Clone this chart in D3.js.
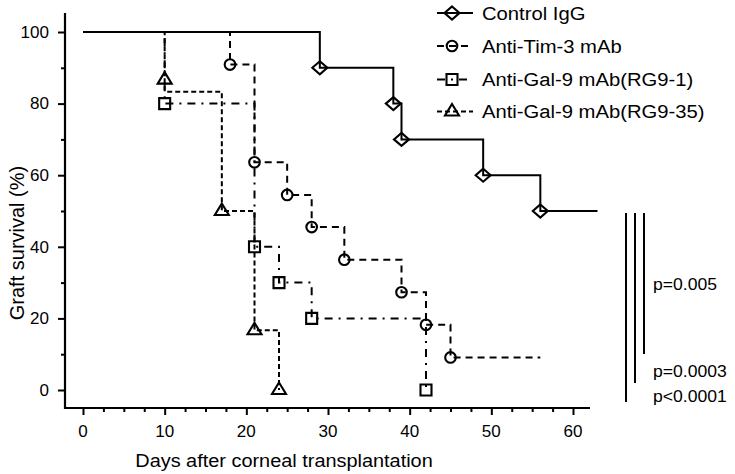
<!DOCTYPE html>
<html><head><meta charset="utf-8">
<script src="https://cdn.jsdelivr.net/npm/d3@7"></script>
<style>html,body{margin:0;padding:0;background:#fff}svg{display:block}</style>
</head><body>
<svg id="c" width="735" height="474"></svg>
<script>
// ---- data ----
const xTicks = [0, 10, 20, 30, 40, 50, 60];
const yTicks = [0, 20, 40, 60, 80, 100];
const seriesNames = ["Control IgG", "Anti-Tim-3 mAb", "Anti-Gal-9 mAb(RG9-1)", "Anti-Gal-9 mAb(RG9-35)"];

const controlDays = [0, 29, 38, 39, 49, 56, 63];
const controlSurv = [100, 90, 80, 70, 60, 50, 50];
const controlMarkDays = [29, 38, 39, 49, 56];
const controlMarkSurv = [90, 80, 70, 60, 50];

const tim3Days = [0, 18, 21, 25, 28, 32, 39, 42, 45, 56];
const tim3Surv = [100, 90.9, 63.6, 54.5, 45.5, 36.4, 27.3, 18.2, 9.1, 9.1];
const tim3MarkDays = [18, 21, 25, 28, 32, 39, 42, 45];
const tim3MarkSurv = [90.9, 63.6, 54.5, 45.5, 36.4, 27.3, 18.2, 9.1];

const rg91Days = [0, 10, 21, 24, 28, 42];
const rg91Surv = [100, 80, 40, 30, 20, 0];
const rg91MarkDays = [10, 21, 24, 28, 42];
const rg91MarkSurv = [80, 40, 30, 20, 0];

const rg935Days = [0, 10, 17, 21, 24];
const rg935Surv = [100, 83.3, 50, 16.7, 0];
const rg935MarkDays = [10, 17, 21, 24];
const rg935MarkSurv = [86.7, 50, 16.7, 0];

const pLabels = ["p=0.005", "p=0.0003", "p<0.0001"];

// ---- drawing ----
const svg = d3.select("#c");
const FONT = "'Liberation Sans', Arial, Helvetica, sans-serif";
const SX = 1.065;
const x = d3.scaleLinear().domain([0, 60]).range([83, 573]);
const y = d3.scaleLinear().domain([0, 100]).range([390, 32]);

function txt(g, px, py, s, size, anchor) {
  return g.append("text")
    .attr("transform", `translate(${px},${py}) scale(${SX},1)`)
    .attr("text-anchor", anchor || "start")
    .attr("font-family", FONT).attr("font-size", size).attr("fill", "#000")
    .text(s);
}

// axes lines
svg.append("line").attr("x1", 65).attr("x2", 65).attr("y1", 13).attr("y2", 409)
  .attr("stroke", "#000").attr("stroke-width", 2.2);
svg.append("line").attr("x1", 64).attr("x2", 590).attr("y1", 408).attr("y2", 408)
  .attr("stroke", "#000").attr("stroke-width", 2.2);

// x ticks
const xMinor = d3.range(0, 62.5, 2.5).filter(v => v % 10 !== 0);
const xAx = svg.append("g").attr("transform", "translate(0,408)");
xAx.call(d3.axisBottom(x).tickValues(xTicks).tickSize(7).tickSizeOuter(0).tickFormat(""));
xAx.append("g").call(d3.axisBottom(x).tickValues(xMinor).tickSize(4).tickSizeOuter(0).tickFormat(""));
xAx.selectAll(".domain").remove();
xAx.selectAll("line").attr("stroke", "#000").attr("stroke-width", 2);
xTicks.forEach(v => txt(svg, x(v), 436.5, String(v), 16, "middle"));

// y ticks
const yMinor = [10, 30, 50, 70, 90];
const yAx = svg.append("g").attr("transform", "translate(65,0)");
yAx.call(d3.axisLeft(y).tickValues(yTicks).tickSize(7).tickSizeOuter(0).tickFormat(""));
yAx.append("g").call(d3.axisLeft(y).tickValues(yMinor).tickSize(4).tickSizeOuter(0).tickFormat(""));
yAx.selectAll(".domain").remove();
yAx.selectAll("line").attr("stroke", "#000").attr("stroke-width", 2);
yTicks.forEach(v => txt(svg, 49, y(v) + 5.7, String(v), 16, "end"));

// axis titles
txt(svg, 284, 467, "Days after corneal transplantation", 18.7, "middle");
svg.append("text").attr("transform", "translate(24,243) rotate(-90)")
  .attr("text-anchor", "middle").attr("font-family", FONT).attr("font-size", 20)
  .text("Graft survival (%)");

// series
const series = [
  {days: controlDays, surv: controlSurv, md: controlMarkDays, ms: controlMarkSurv, dash: null, sym: "diamond"},
  {days: tim3Days, surv: tim3Surv, md: tim3MarkDays, ms: tim3MarkSurv, dash: "7,5", sym: "circle"},
  {days: rg91Days, surv: rg91Surv, md: rg91MarkDays, ms: rg91MarkSurv, dash: "8,6,2,6", sym: "square"},
  {days: rg935Days, surv: rg935Surv, md: rg935MarkDays, ms: rg935MarkSurv, dash: "5,3", sym: "triangle"}
];
const symPath = {
  diamond: "M0,-6.5L7.5,0L0,6.5L-7.5,0Z",
  square: "M-5.5,-5.5H5.5V5.5H-5.5Z",
  triangle: "M0,-7.5L7,4L-7,4Z",
  circle: d3.symbol(d3.symbolCircle, Math.PI * 5.3 * 5.3)()
};
const line = d3.line().curve(d3.curveStepAfter).x(d => x(d[0])).y(d => y(d[1]));

const draw = [3, 2, 1, 0];
draw.forEach(i => {
  const s = series[i];
  svg.append("path").attr("d", line(s.days.map((d, j) => [d, s.surv[j]])))
    .attr("fill", "none").attr("stroke", "#000").attr("stroke-width", 2)
    .attr("stroke-dasharray", s.dash);
});
series.forEach(s => {
  svg.append("g").selectAll("path").data(s.md.map((d, j) => [d, s.ms[j]])).join("path")
    .attr("d", symPath[s.sym])
    .attr("transform", d => `translate(${x(d[0])},${y(d[1])})`)
    .attr("fill", "none").attr("stroke", "#000").attr("stroke-width", 2.1);
});

// legend
const legY = [13, 46, 79.5, 111.5];
series.forEach((s, i) => {
  const g = svg.append("g");
  g.append("line").attr("x1", 437).attr("x2", 473).attr("y1", legY[i]).attr("y2", legY[i])
    .attr("stroke", "#000").attr("stroke-width", 2).attr("stroke-dasharray", s.dash);
  g.append("path").attr("d", symPath[s.sym]).attr("transform", `translate(452,${legY[i]})`)
    .attr("fill", "none").attr("stroke", "#000").attr("stroke-width", 2.1);
  txt(g, 482, legY[i] + 6.8, seriesNames[i], 19, "start");
});

// p-value brackets
const brX = [626, 635, 644];
const brBottom = [402, 383, 354];
brX.forEach((bx, i) => {
  svg.append("line").attr("x1", bx).attr("x2", bx).attr("y1", 213).attr("y2", brBottom[i])
    .attr("stroke", "#000").attr("stroke-width", 2);
});
const pY = [290, 376.5, 402];
pLabels.forEach((p, i) => txt(svg, 653, pY[i], p, 16.5, "start"));
</script>
</body></html>
